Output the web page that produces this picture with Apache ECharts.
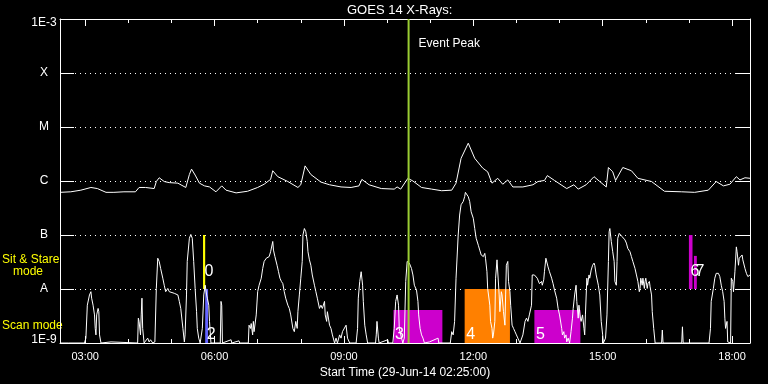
<!DOCTYPE html>
<html><head><meta charset="utf-8">
<script src="https://cdn.jsdelivr.net/npm/echarts@6/dist/echarts.min.js"></script>
<style>html,body{margin:0;background:#000}#c{width:768px;height:384px}</style>
</head><body><div id="c"></div>
<script>
// time in minutes since 00:00 (29-Jun-14), value = log10(flux W/m^2)
const longChannel = [[145,-6.21],[160,-6.20],[174,-6.17],[188,-6.12],[197,-6.14],[209,-6.21],[220,-6.21],[234,-6.20],[250,-6.20],[255,-6.12],[264,-6.12],[276,-6.14],[279,-6.01],[283,-5.94],[290,-6.01],[297,-6.03],[309,-6.04],[320,-6.12],[325,-5.88],[328,-5.78],[333,-5.89],[339,-6.04],[346,-6.09],[353,-6.11],[362,-6.20],[370,-6.09],[376,-6.17],[390,-6.22],[406,-6.19],[420,-6.12],[429,-6.06],[438,-5.97],[441,-5.81],[448,-5.92],[462,-6.01],[476,-6.12],[480,-6.07],[486,-5.72],[494,-5.88],[508,-6.02],[520,-6.07],[536,-6.11],[550,-6.12],[561,-6.09],[565,-5.97],[575,-6.07],[592,-6.14],[610,-6.15],[614,-6.11],[619,-6.15],[626,-6.01],[629,-5.95],[636,-6.00],[648,-6.12],[662,-6.15],[676,-6.18],[690,-6.17],[696,-6.04],[703,-5.58],[713,-5.30],[722,-5.58],[733,-5.76],[740,-5.83],[746,-6.04],[754,-5.95],[761,-6.06],[768,-5.98],[775,-6.11],[789,-6.11],[803,-6.07],[810,-6.01],[819,-5.99],[823,-5.90],[833,-5.99],[850,-6.14],[860,-6.07],[866,-6.15],[877,-6.07],[888,-5.92],[896,-6.01],[905,-6.11],[908,-5.75],[914,-5.83],[918,-5.99],[928,-5.75],[940,-5.81],[949,-5.95],[968,-6.01],[986,-6.19],[1010,-6.20],[1028,-6.21],[1047,-6.17],[1058,-6.01],[1068,-6.09],[1077,-6.06],[1086,-5.92],[1091,-5.98],[1098,-5.94],[1105,-5.95]];

const shortChannel = [[145,-9],[157,-9],[158,-8.97],[159,-9],[179,-9],[181,-8.91],[183,-8.30],[186,-8.11],[188,-8.05],[189,-8.17],[191,-8.30],[193,-8.48],[194,-8.73],[195,-8.85],[196,-8.48],[198,-8.36],[199,-8.42],[200,-8.85],[202,-9],[216,-8.98],[217,-9],[253,-9],[254,-8.54],[255,-8.60],[257,-8.85],[258,-8.48],[259,-8.17],[260,-8.73],[262,-9],[267,-8.91],[269,-8.98],[271,-8.94],[274,-9],[277,-8.98],[279,-7.99],[281,-7.43],[283,-7.49],[285,-7.62],[288,-7.80],[290,-7.93],[292,-8.05],[295,-7.99],[297,-8.05],[299,-8.05],[304,-8.08],[306,-8.05],[309,-8.11],[311,-8.23],[313,-8.36],[316,-8.73],[318,-8.98],[319,-8.85],[321,-8.11],[322,-7.49],[325,-7.06],[327,-6.99],[329,-7.06],[331,-7.49],[333,-7.99],[335,-8.42],[336,-8.73],[338,-8.91],[340,-9],[342,-9],[343,-8.73],[345,-8.11],[347,-7.93],[349,-8.11],[350,-8.17],[352,-8.30],[353,-8.60],[355,-9],[368,-9],[369,-8.23],[370,-8.30],[371,-9],[383,-8.94],[384,-9],[394,-8.96],[395,-9],[407,-9],[408,-8.67],[410,-8.73],[411,-8.64],[413,-8.85],[414,-8.60],[415,-8.79],[418,-8.48],[420,-8.05],[422,-7.93],[425,-7.80],[427,-7.62],[429,-7.49],[432,-7.43],[434,-7.40],[436,-7.40],[438,-7.31],[441,-7.12],[442,-7.28],[444,-7.40],[447,-7.56],[449,-7.68],[451,-7.80],[453,-7.86],[455,-7.90],[457,-8.05],[459,-8.17],[462,-8.30],[464,-8.36],[466,-8.48],[469,-8.73],[471,-8.79],[473,-8.60],[475,-8.73],[476,-8.42],[478,-8.11],[480,-7.80],[482,-7.49],[483,-7.00],[485,-6.88],[487,-6.94],[489,-7.12],[490,-7.31],[492,-7.46],[494,-7.56],[496,-7.74],[499,-7.93],[501,-8.05],[503,-8.17],[506,-8.36],[508,-8.30],[510,-8.36],[513,-8.23],[514,-8.48],[516,-8.60],[517,-8.42],[520,-8.67],[522,-8.73],[524,-8.85],[527,-9],[529,-8.91],[531,-9],[534,-8.85],[536,-8.91],[538,-8.79],[543,-8.67],[545,-8.91],[548,-9],[557,-9],[559,-8.73],[560,-8.17],[562,-7.86],[564,-7.68],[566,-7.93],[567,-8.23],[569,-8.67],[571,-8.85],[573,-9],[584,-9],[585,-8.85],[586,-8.60],[588,-8.91],[589,-9],[601,-8.94],[602,-9],[608,-9],[610,-8.73],[612,-8.23],[614,-8.11],[616,-8.30],[617,-8.73],[619,-8.85],[622,-9],[624,-8.91],[626,-7.86],[628,-7.49],[631,-7.52],[634,-7.62],[636,-7.74],[638,-7.93],[641,-8.02],[643,-8.23],[644,-8.48],[646,-8.73],[648,-8.85],[650,-8.91],[652,-9],[659,-8.98],[661,-9],[671,-8.91],[672,-9],[688,-9],[690,-8.79],[692,-8.85],[694,-8.60],[696,-7.80],[699,-7.00],[701,-6.63],[703,-6.44],[706,-6.38],[708,-6.29],[709,-6.21],[713,-6.29],[715,-6.38],[717,-6.57],[720,-6.69],[722,-6.88],[724,-7.06],[727,-7.19],[729,-7.28],[731,-7.37],[734,-7.40],[736,-7.34],[737,-7.43],[739,-7.68],[740,-7.99],[743,-8.30],[744,-8.60],[746,-8.73],[747,-8.91],[748,-8.85],[750,-8.60],[751,-7.80],[753,-7.46],[754,-7.49],[756,-8.11],[757,-8.42],[759,-8.05],[760,-8.11],[762,-8.42],[764,-8.67],[765,-8.11],[766,-7.56],[768,-7.49],[769,-7.86],[771,-8.05],[772,-8.30],[774,-8.67],[776,-8.73],[778,-8.79],[780,-8.85],[782,-8.91],[785,-9],[787,-9],[789,-8.85],[792,-8.60],[794,-8.54],[796,-8.60],[798,-8.48],[801,-8.30],[802,-7.74],[804,-7.71],[805,-7.74],[807,-7.77],[809,-7.80],[810,-7.80],[812,-7.90],[813,-7.93],[815,-7.86],[816,-7.93],[818,-7.83],[819,-7.68],[821,-7.43],[823,-7.46],[824,-7.59],[826,-7.68],[829,-7.80],[831,-7.90],[833,-8.02],[836,-8.17],[838,-8.36],[840,-8.48],[843,-8.73],[844,-8.85],[846,-8.79],[847,-8.91],[849,-8.85],[850,-8.98],[852,-8.91],[854,-9],[856,-8.79],[858,-8.54],[859,-8.36],[861,-8.11],[863,-7.93],[864,-8.23],[866,-8.54],[867,-8.30],[869,-8.54],[870,-8.60],[872,-8.48],[874,-8.73],[875,-8.85],[876,-8.48],[878,-7.80],[879,-7.93],[881,-7.74],[882,-7.80],[884,-7.65],[886,-7.56],[888,-7.52],[889,-7.56],[891,-7.74],[894,-7.93],[896,-8.11],[898,-8.60],[900,-8.85],[901,-9],[903,-9],[904,-8.91],[906,-8.48],[908,-7.49],[909,-6.94],[910,-6.88],[912,-7.12],[913,-7.09],[914,-7.31],[916,-7.49],[917,-7.86],[919,-7.93],[920,-7.49],[921,-7.06],[923,-6.97],[925,-6.97],[927,-7.03],[928,-7.00],[931,-7.09],[933,-7.15],[935,-7.25],[938,-7.31],[940,-7.40],[942,-7.49],[945,-7.62],[947,-7.74],[949,-7.86],[951,-8.05],[952,-7.99],[953,-7.80],[955,-7.93],[956,-7.80],[958,-7.99],[959,-7.86],[960,-7.80],[962,-7.99],[963,-7.90],[965,-7.86],[966,-7.96],[968,-8.11],[969,-8.42],[971,-8.73],[973,-9],[982,-9],[983,-8.76],[984,-9],[1010,-9],[1011,-8.70],[1012,-9],[1048,-9],[1050,-8.73],[1051,-8.23],[1054,-7.99],[1056,-7.80],[1058,-7.71],[1061,-7.71],[1063,-7.77],[1065,-7.93],[1067,-8.05],[1069,-8.23],[1070,-8.54],[1071,-8.73],[1073,-8.60],[1074,-8.98],[1076,-9],[1078,-9],[1079,-7.80],[1081,-7.86],[1082,-8.05],[1084,-7.68],[1086,-7.22],[1087,-7.31],[1089,-7.56],[1090,-7.43],[1092,-7.40],[1094,-7.37],[1095,-7.46],[1098,-7.62],[1100,-7.71],[1102,-7.77],[1105,-7.74]];

// observation windows: start/end minutes, low/high flux, label
const obsStart = [344, 347, 609, 708, 805, 1020, 1027];
const obsEnd   = [347, 351, 677, 771, 869, 1025, 1031];
const obsLow   = [1e-8, 1e-9, 1e-9, 1e-9, 1e-9, 1e-8, 1e-8];
const obsHigh  = [1e-7, 1e-8, 4.1e-9, 1e-8, 4.1e-9, 1e-7, 4.1e-8];
const obsLabel = ['0', '2', '3', '4', '5', '6', '7'];
const eventPeak = 630; // 10:30

const timeMin = 145, timeMax = 1105;           // 02:25 .. 18:25
const majorTicks = [180, 360, 540, 720, 900, 1080];
const hourTicks = [180,240,300,360,420,480,540,600,660,720,780,840,900,960,1020,1080];
const yLevelLabels = ['1E-9', 'A', 'B', 'C', 'M', 'X', '1E-3'];

const obsColors = ['#ffff00', '#6464ff', '#cc00cc', '#ff8000', '#cc00cc', '#cc00cc', '#cc00cc'];
const FONT = '"Liberation Sans", Arial, sans-serif';

function hhmm(v) {
  const h = Math.floor(v / 60), m = Math.round(v % 60);
  return String(h).padStart(2, '0') + ':' + String(m).padStart(2, '0');
}

const chart = echarts.init(document.getElementById('c'), null, {renderer: 'canvas'});

const obsData = obsStart.map((s, i) => [s, obsEnd[i], obsLow[i], obsHigh[i], i]);

function renderObs(params, api) {
  const i = api.value(4);
  const p0 = api.coord([api.value(0), api.value(3)]);
  const p1 = api.coord([api.value(1), api.value(2)]);
  const sit = api.value(2) >= 1e-8;
  return {type: 'group', children: [
    {type: 'rect', shape: {x: p0[0], y: p0[1], width: p1[0] - p0[0], height: p1[1] - p0[1]}, style: {fill: obsColors[i]}},
    {type: 'text', x: p0[0] + 1.5, y: p1[1] - (sit ? 9 : 0), z2: 10,
     style: {text: obsLabel[i], fill: '#fff', font: '16px ' + FONT, align: 'left', verticalAlign: 'bottom'}}
  ]};
}

function renderPeak(params, api) {
  const x = api.coord([api.value(0), 1e-6])[0];
  const cs = params.coordSys;
  return {type: 'group', children: [
    {type: 'line', shape: {x1: x, y1: cs.y, x2: x, y2: cs.y + cs.height}, style: {stroke: '#9acd32', lineWidth: 2}},
    {type: 'text', x: x + 10, y: cs.y + 19, style: {text: 'Event Peak', fill: '#fff', font: '12px ' + FONT, align: 'left', verticalAlign: 'top'}}
  ]};
}

function xAxisDef(position, ticks, len, showLine, showLabel) {
  return {
    type: 'value', min: timeMin, max: timeMax, position: position,
    axisLine: {show: showLine, onZero: false, lineStyle: {color: '#fff', width: 1}},
    axisTick: {show: true, inside: true, length: len, customValues: ticks, lineStyle: {color: '#fff', width: 1}},
    axisLabel: {show: showLabel, customValues: majorTicks, formatter: hhmm, color: '#fff', fontSize: 11, fontFamily: FONT, margin: 8},
    splitLine: {show: false}
  };
}

const xAxes = [
  xAxisDef('bottom', majorTicks, 7, true, true),
  xAxisDef('bottom', hourTicks, 4, false, false),
  xAxisDef('top', majorTicks, 7, true, false),
  xAxisDef('top', hourTicks, 4, false, false)
];
xAxes[0].name = 'Start Time (29-Jun-14 02:25:00)';
xAxes[0].nameLocation = 'middle';
xAxes[0].nameGap = 17;
xAxes[0].nameTextStyle = {color: '#fff', fontSize: 12, fontFamily: FONT};

function yLabel(v) {
  const k = Math.round(Math.log10(v)) + 9;
  const t = yLevelLabels[k] || '';
  if (k === 6) return '{top|' + t + '}';
  if (k === 0) return '{bot|' + t + '}';
  return t;
}

const yAxes = [
  {type: 'log', logBase: 10, min: 1e-9, max: 1e-3, position: 'left',
   axisLine: {show: true, onZero: false, lineStyle: {color: '#fff', width: 1}},
   axisTick: {show: true, inside: true, length: 14, lineStyle: {color: '#fff', width: 1}},
   minorTick: {show: false},
   axisLabel: {color: '#fff', fontSize: 12, fontFamily: FONT, align: 'center', margin: 16,
     formatter: yLabel,
     rich: {
       top: {color: '#fff', fontSize: 12, fontFamily: FONT, padding: [8, 0, 0, 0]},
       bot: {color: '#fff', fontSize: 12, fontFamily: FONT, padding: [0, 0, 6, 0]}
     }},
   splitLine: {show: true, lineStyle: {color: '#fff', width: 1, type: [1, 4]}}},
  {type: 'log', logBase: 10, min: 1e-9, max: 1e-3, position: 'right',
   axisLine: {show: true, onZero: false, lineStyle: {color: '#fff', width: 1}},
   axisTick: {show: true, inside: true, length: 14, lineStyle: {color: '#fff', width: 1}},
   axisLabel: {show: false}, splitLine: {show: false}}
];

chart.setOption({
  backgroundColor: '#000',
  animation: false,
  title: {text: 'GOES 14 X-Rays:', left: 347, top: 4, padding: 0,
    textStyle: {color: '#fff', fontSize: 13, fontWeight: 'normal', fontFamily: FONT}},
  grid: {left: 60, right: 18, top: 19, bottom: 41, containLabel: false},
  xAxis: xAxes,
  yAxis: yAxes,
  graphic: [
    {type: 'text', left: 2, top: 254, style: {text: 'Sit & Stare', fill: '#ffff00', font: '12px ' + FONT}},
    {type: 'text', left: 13, top: 266, style: {text: 'mode', fill: '#ffff00', font: '12px ' + FONT}},
    {type: 'text', left: 2, top: 320, style: {text: 'Scan mode', fill: '#ffff00', font: '12px ' + FONT}}
  ],
  series: [
    {type: 'custom', name: 'observations', renderItem: renderObs, data: obsData,
     encode: {x: [0, 1], y: [2, 3]}, z: 1, silent: true},
    {type: 'line', name: 'long', data: longChannel.map(p => [p[0], Math.pow(10, p[1])]),
     showSymbol: false, symbol: 'none', lineStyle: {color: '#fff', width: 1}, z: 2, silent: true},
    {type: 'line', name: 'short', data: shortChannel.map(p => [p[0], Math.pow(10, p[1])]),
     showSymbol: false, symbol: 'none', lineStyle: {color: '#fff', width: 1}, z: 2, silent: true},
    {type: 'custom', name: 'peak', renderItem: renderPeak, data: [[eventPeak, 1e-6]],
     encode: {x: 0, y: 1}, z: 5, silent: true}
  ]
});
</script></body></html>
